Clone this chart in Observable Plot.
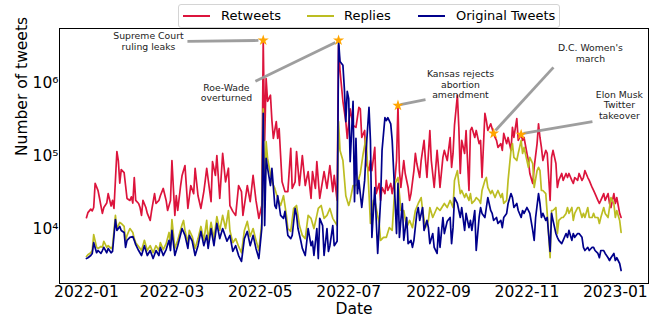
<!DOCTYPE html>
<html><head><meta charset="utf-8">
<script src="https://cdn.jsdelivr.net/npm/d3@7"></script>
<script src="https://cdn.jsdelivr.net/npm/@observablehq/plot@0.6"></script>
<style>
body{margin:0;background:#fff;font-family:"DejaVu Sans",sans-serif;}
#wrap{position:relative;width:659px;height:318px;overflow:hidden;}
#legend{position:absolute;left:178px;top:4px;width:382px;height:24px;background:rgba(255,255,255,0.92);border:1px solid #d4d4d4;border-radius:3px;box-sizing:border-box;}
#legend .sw{position:absolute;top:10px;width:27px;height:2px;}
#legend .lb{position:absolute;top:3px;font-size:13px;line-height:15px;color:#000;white-space:nowrap;}
</style></head>
<body>
<div id="wrap">
<div id="chart"></div>
<div id="legend"></div>
</div>
<script>
// day offsets from 2022-01-01 and counts
const retweets = [[0,14500],[1,17000],[3,19000],[4,18000],[5,20000],[6,43000],[8,34000],[9,27000],[10,21000],[11,16600],[12,20000],[14,23000],[15,31000],[17,21000],[18,25000],[19,19400],[21,117000],[22,88000],[23,43000],[24,66000],[26,60000],[27,40000],[28,26600],[30,25000],[31,28000],[32,23000],[33,51500],[34,25000],[36,22700],[37,20000],[38,15600],[39,25000],[41,20000],[42,16600],[44,13300],[45,18200],[47,31000],[48,22700],[50,25000],[51,29000],[53,36500],[55,25000],[56,18200],[57,21300],[58,25000],[59,88000],[61,15600],[62,29000],[63,18200],[65,40000],[66,55000],[68,75000],[70,19400],[72,40000],[74,31000],[75,69000],[77,29000],[79,19400],[81,33000],[82,47000],[83,69000],[86,24000],[87,85000],[89,55000],[90,103000],[92,26600],[94,110000],[96,45000],[98,69000],[99,21300],[101,17700],[103,15600],[105,40000],[107,33000],[108,15600],[111,40000],[113,24000],[115,55000],[117,25000],[119,14200],[121,21300],[122,3900000],[123,166000],[124,1170000],[125,570000],[127,690000],[128,310000],[129,177000],[131,300000],[132,177000],[133,240000],[134,103000],[135,45000],[137,33000],[139,33000],[141,129000],[142,36500],[144,45000],[145,117000],[147,40000],[149,103000],[151,40000],[153,62000],[155,26600],[156,62000],[158,36500],[159,85000],[161,26600],[164,62000],[166,36500],[168,75000],[170,33000],[171,55000],[173,25000],[174,3300000],[175,1500000],[177,570000],[179,300000],[180,177000],[182,450000],[184,266000],[186,250000],[188,470000],[189,450000],[190,182000],[192,227000],[193,80000],[195,64000],[196,88000],[197,64000],[199,133000],[200,31000],[202,42700],[203,25000],[204,37600],[206,31000],[207,47000],[208,34200],[210,42700],[211,31000],[213,51500],[214,88000],[215,500000],[216,64000],[217,37600],[219,88000],[220,58500],[222,37600],[223,25000],[224,31000],[226,64000],[227,110000],[228,80000],[230,51500],[231,88000],[233,166000],[234,88000],[235,51500],[237,227000],[238,88000],[240,37600],[242,121000],[243,71000],[244,37600],[246,97000],[247,121000],[249,88000],[251,182000],[252,71000],[253,110000],[254,266000],[256,690000],[257,250000],[258,58500],[259,166000],[261,110000],[262,227000],[264,34200],[265,227000],[266,250000],[268,182000],[269,227000],[271,150000],[272,166000],[273,51500],[275,390000],[276,310000],[277,227000],[279,280000],[281,207000],[282,182000],[283,166000],[284,133000],[286,150000],[287,121000],[288,207000],[290,150000],[291,182000],[293,121000],[294,250000],[295,182000],[297,330000],[298,166000],[300,200000],[301,166000],[302,182000],[304,110000],[305,88000],[306,58500],[308,42700],[309,71000],[311,150000],[312,280000],[313,182000],[314,133000],[315,88000],[317,121000],[318,110000],[320,25000],[321,97000],[322,121000],[324,80000],[325,37600],[326,47000],[328,58500],[329,47000],[331,58500],[332,51500],[333,58500],[335,47000],[336,42700],[337,51500],[339,47000],[340,58500],[342,47000],[343,51500],[344,64000],[346,51500],[347,47000],[349,37600],[350,34200],[351,31000],[353,25000],[354,22700],[355,25000],[357,31000],[358,25000],[360,31000],[361,22700],[362,20000],[364,31000],[365,22700],[366,27400],[368,16600],[369,14600]];
const replies = [[0,4270],[1,4500],[3,4800],[4,5150],[5,8500],[7,5700],[8,5500],[10,5850],[11,5700],[12,6900],[14,5700],[15,6000],[17,5500],[18,5850],[20,15600],[21,10300],[23,12500],[24,12100],[26,11000],[27,7100],[28,8300],[30,10300],[32,9100],[33,7500],[34,6600],[36,5850],[38,5150],[40,7100],[42,5150],[44,6000],[46,4800],[48,6000],[50,5150],[51,6600],[53,5300],[55,6400],[57,9100],[58,6200],[59,13700],[61,5500],[63,7100],[66,11700],[67,13300],[68,9700],[70,6600],[71,9700],[73,8000],[75,5500],[77,7500],[79,11000],[81,7100],[83,13300],[84,7100],[86,12500],[88,7500],[90,15000],[92,9700],[94,15600],[96,10300],[98,18200],[99,9700],[101,6600],[103,7500],[105,5850],[107,4800],[109,9700],[111,12900],[113,8000],[115,10300],[117,7100],[119,5150],[121,12500],[122,450000],[123,20000],[124,160000],[125,94000],[128,45000],[130,36500],[132,26600],[134,21300],[136,29000],[138,15600],[139,10300],[141,9400],[143,19400],[145,21300],[147,11300],[149,8300],[151,7500],[153,15600],[155,14200],[157,10300],[159,15600],[160,19400],[162,21300],[164,14200],[166,15600],[168,19400],[170,14200],[173,11300],[174,300000],[175,121000],[177,88000],[179,29000],[181,21300],[182,25000],[184,40000],[186,40000],[187,42700],[189,58500],[191,110000],[193,182000],[195,31000],[196,12100],[198,25000],[199,25000],[202,12100],[203,7100],[205,7800],[207,7800],[209,10600],[211,9700],[213,42700],[215,51500],[217,18200],[219,18200],[221,10600],[223,13300],[225,10600],[227,18200],[229,22700],[231,27400],[232,18200],[234,10600],[236,13300],[237,20000],[239,14600],[242,20000],[244,18200],[247,22700],[249,20000],[251,25000],[253,20000],[254,47000],[256,64000],[257,42700],[258,31000],[259,34200],[261,27400],[262,31000],[264,25000],[265,31000],[266,22700],[268,25000],[269,27400],[271,25000],[272,22700],[273,34200],[275,47000],[276,51500],[277,37600],[279,31000],[280,34200],[282,27400],[283,31000],[284,34200],[286,27400],[287,31000],[288,22700],[290,25000],[291,47000],[293,121000],[294,150000],[295,97000],[297,88000],[298,110000],[300,166000],[301,110000],[302,133000],[304,88000],[305,71000],[306,97000],[308,80000],[309,37600],[311,64000],[312,71000],[313,64000],[314,34200],[315,34200],[317,31000],[318,16600],[320,4100],[321,18200],[322,18200],[324,20000],[325,8800],[326,13300],[328,14600],[329,14600],[331,16600],[332,20000],[333,16600],[335,20000],[336,13300],[337,16600],[339,20000],[340,20000],[342,14600],[343,16600],[344,14600],[346,20000],[347,14600],[349,14600],[350,16600],[351,14600],[353,14600],[354,12100],[355,14600],[357,20000],[358,16600],[360,14600],[361,20000],[362,27400],[364,22700],[365,14600],[366,18200],[368,13300],[369,9100]];
const original = [[0,4000],[1,4100],[3,4400],[4,4700],[5,6600],[7,4800],[8,5150],[10,4700],[11,5150],[12,5700],[14,4800],[15,5500],[17,4800],[18,5000],[20,13700],[21,9700],[23,11000],[24,9700],[26,9100],[27,5700],[28,7100],[30,7800],[32,8000],[33,7100],[34,6200],[36,5150],[38,4400],[40,6000],[42,4400],[44,5150],[46,4000],[48,5150],[50,4400],[51,5700],[53,4400],[55,5300],[57,7100],[58,5150],[59,9700],[61,4400],[63,6000],[66,10300],[68,8300],[70,5500],[71,8300],[73,6900],[75,4400],[77,6000],[79,9400],[81,6000],[83,8300],[84,5500],[86,10300],[88,6000],[90,12100],[92,7500],[94,10300],[97,6900],[99,8300],[101,5000],[103,6000],[105,4400],[107,3650],[109,7500],[111,9400],[113,6000],[115,8300],[117,5500],[119,4000],[121,10300],[122,390000],[123,11300],[124,94000],[125,69000],[127,40000],[128,69000],[130,21300],[131,19400],[132,29000],[134,15600],[136,14200],[137,17700],[139,8300],[141,7500],[142,8300],[144,19400],[145,15600],[146,10300],[148,6900],[149,5500],[151,4400],[153,10300],[155,6000],[156,6900],[157,4400],[159,10300],[160,4000],[161,14200],[163,11300],[164,4400],[166,10300],[167,5000],[168,6000],[170,11300],[171,6000],[173,6900],[174,3900000],[175,2000000],[177,1770000],[178,850000],[179,300000],[180,780000],[181,620000],[182,85000],[184,570000],[185,24000],[186,177000],[187,31000],[188,47000],[190,20000],[192,47000],[193,121000],[195,470000],[196,166000],[197,7800],[199,37600],[201,4700],[203,25000],[204,121000],[206,340000],[207,310000],[208,340000],[210,280000],[211,166000],[213,25000],[214,8800],[215,42700],[216,7800],[218,22700],[219,7100],[221,14600],[222,6400],[224,7100],[225,5700],[226,7100],[228,16600],[229,20000],[230,13300],[232,20000],[233,9700],[235,13300],[236,10600],[237,6400],[239,8800],[240,5700],[242,4700],[243,10600],[244,5700],[246,14600],[247,8800],[249,13000],[251,14600],[252,6400],[253,10600],[254,27400],[256,22700],[258,14600],[259,20000],[261,9700],[262,16600],[264,10600],[265,13300],[266,9700],[268,18200],[269,5150],[271,14600],[272,20000],[273,16600],[275,14600],[276,20000],[277,27400],[279,18200],[280,16600],[281,13300],[283,14600],[284,12100],[286,13300],[287,10600],[288,14600],[290,16600],[291,22700],[293,31000],[294,27400],[295,20000],[297,22700],[298,18200],[300,14600],[301,18200],[302,16600],[304,20000],[305,18200],[306,16600],[308,9700],[309,7100],[310,14600],[312,31000],[313,22700],[314,14600],[315,16600],[317,13300],[318,14600],[320,5000],[321,16600],[322,13300],[324,8800],[325,7800],[326,7100],[328,6400],[329,7100],[331,8800],[332,7800],[333,9700],[335,7100],[336,8800],[337,7800],[339,8800],[340,8800],[342,7800],[343,5700],[344,5150],[346,5700],[347,5150],[349,5700],[350,5700],[351,5150],[353,4700],[354,4100],[355,5150],[357,5150],[358,4700],[360,4100],[361,3760],[362,4100],[364,4700],[365,3760],[366,4100],[368,3420],[369,2740]];

const seriesNames = ["Retweets", "Replies", "Original Tweets"];
const seriesColors = ["#dc143c", "#bcbd22", "#00008b"];
const xTickDates = ["2022-01-01","2022-03-01","2022-05-01","2022-07-01","2022-09-01","2022-11-01","2023-01-01"];
const yTicks = [1e4, 1e5, 1e6];

// annotated events: star point, text position, connector line (day offsets, counts)
const eventLabels = ["Supreme Court\nruling leaks", "Roe-Wade\noverturned", "Kansas rejects\nabortion\namendment", "D.C. Women's\nmarch", "Elon Musk\nTwitter\ntakeover"];
const starDays = [122, 174, 215, 281, 300];
const starValues = [3900000, 3900000, 500000, 207000, 200000];
const textDays = [42.8, 96.6, 258.1, 347.8, 367.8];
const textValues = [3820000, 750000, 980000, 2580000, 507000];
const lineFromDays = [69.7, 116.6, 216.7, 322.3, 349.2];
const lineFromValues = [3760000, 1070000, 515000, 1660000, 300000];
const lineToDays = [118.7, 171.8, 234, 282.3, 301.6];
const lineToValues = [3880000, 3650000, 600000, 227000, 207000];

const day0 = Date.UTC(2022, 0, 1);
const toDate = d => new Date(day0 + d * 864e5);

const rows = [];
[retweets, replies, original].forEach((arr, i) => {
  for (const [d, v] of arr) rows.push({series: seriesNames[i], date: toDate(d), value: v});
});
const events = eventLabels.map((label, i) => ({
  label,
  sx: toDate(starDays[i]), sy: starValues[i],
  tx: toDate(textDays[i]), ty: textValues[i],
  x1: toDate(lineFromDays[i]), y1: lineFromValues[i],
  x2: toDate(lineToDays[i]), y2: lineToValues[i]
}));
const sup = {"0":"⁰","1":"¹","2":"²","3":"³","4":"⁴","5":"⁵","6":"⁶","7":"⁷","8":"⁸","9":"⁹"};

const chart = Plot.plot({
  width: 659, height: 318,
  marginLeft: 59, marginRight: 11, marginTop: 28, marginBottom: 35,
  style: {fontFamily: "DejaVu Sans, sans-serif", background: "white", color: "black"},
  x: {type: "utc", domain: [toDate(-18.6), toDate(387.9)]},
  y: {type: "log", domain: [1820, 5.66e6]},
  marks: [
    ...seriesNames.map((name, i) => Plot.line(rows.filter(r => r.series === name), {
      x: "date", y: "value", stroke: seriesColors[i], strokeWidth: 1.7, strokeLinejoin: "round"
    })),
    Plot.link(events, {x1: "x1", y1: "y1", x2: "x2", y2: "y2", stroke: "#999", strokeWidth: 2.8, strokeOpacity: 0.95}),
    Plot.dot(events, {x: "sx", y: "sy", symbol: "star", fill: "#ffa500", stroke: "none", r: 3.5}),
    Plot.text(events, {x: "tx", y: "ty", text: "label", fontSize: 9.3, lineHeight: 1.15, lineAnchor: "middle", fill: "#222"}),
    Plot.frame({stroke: "black", strokeWidth: 1}),
    Plot.axisX({ticks: xTickDates.map(s => new Date(s)), tickFormat: d3.utcFormat("%Y-%m"), tickSize: 0, tickPadding: 2, fontSize: 15.5, label: null}),
    Plot.axisY({ticks: yTicks, tickFormat: d => "10" + String(Math.round(Math.log10(d))).split("").map(c => sup[c]).join(""), tickSize: 0, tickPadding: 1, fontSize: 15.5, label: null}),
    Plot.text(["Date"], {frameAnchor: "bottom", dy: 26, fontSize: 15.5, lineAnchor: "middle"}),
    Plot.text(["Number of tweets"], {frameAnchor: "left", dx: -37, rotate: -90, fontSize: 15.5, lineAnchor: "middle"})
  ]
});
document.getElementById("chart").appendChild(chart);

// legend
const legend = document.getElementById("legend");
const swLeft = [4, 128, 239];
const lbLeft = [42, 165, 277];
seriesNames.forEach((name, i) => {
  const sw = document.createElement("span");
  sw.className = "sw"; sw.style.left = swLeft[i] + "px"; sw.style.background = seriesColors[i];
  const lb = document.createElement("span");
  lb.className = "lb"; lb.style.left = lbLeft[i] + "px"; lb.textContent = name;
  legend.appendChild(sw); legend.appendChild(lb);
});
</script>
</body></html>
